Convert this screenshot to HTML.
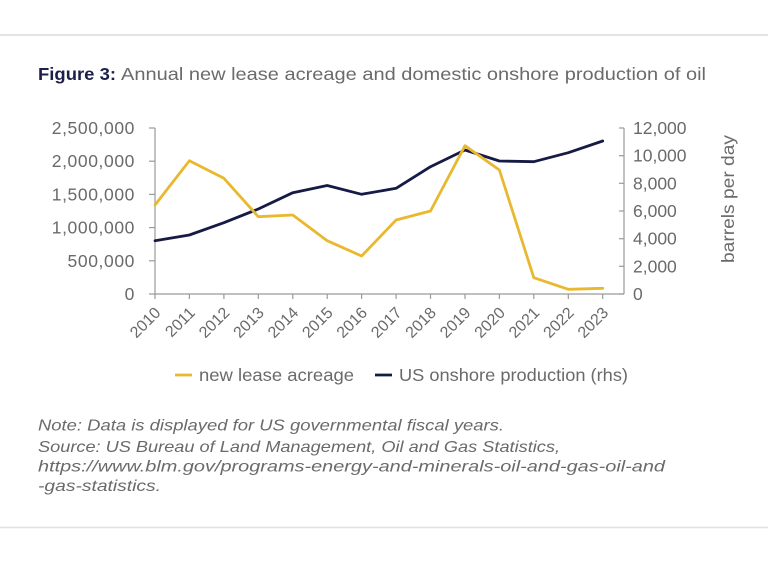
<!DOCTYPE html>
<html>
<head>
<meta charset="utf-8">
<style>
  html,body{margin:0;padding:0;background:#fff;}
  svg{display:block;}
  text{font-family:"Liberation Sans",sans-serif;}
</style>
</head>
<body>
<svg width="768" height="565" viewBox="0 0 768 565" xmlns="http://www.w3.org/2000/svg">
  <rect x="0" y="0" width="768" height="565" fill="#fff"/>
  <line x1="0" y1="35" x2="768" y2="35" stroke="#e4e4e4" stroke-width="2"/>
  <line x1="0" y1="527.5" x2="768" y2="527.5" stroke="#e0e0e0" stroke-width="1.5"/>

  <!-- Title -->
  <text x="38" y="80" font-size="17.5" font-weight="bold" fill="#1c1f4a" textLength="78" lengthAdjust="spacingAndGlyphs">Figure 3:</text>
  <text x="121" y="80" font-size="17.5" fill="#6a6a6a" textLength="585" lengthAdjust="spacingAndGlyphs">Annual new lease acreage and domestic onshore production of oil</text>

  <!-- Axes -->
  <g stroke="#9a9a9a" stroke-width="1.2" fill="none">
    <line x1="155" y1="128" x2="155" y2="294"/>
    <line x1="155" y1="294" x2="624" y2="294"/>
    <line x1="624" y1="128" x2="624" y2="294"/>
    <line x1="149" y1="294" x2="155" y2="294"/>
    <line x1="149" y1="260.8" x2="155" y2="260.8"/>
    <line x1="149" y1="227.6" x2="155" y2="227.6"/>
    <line x1="149" y1="194.4" x2="155" y2="194.4"/>
    <line x1="149" y1="161.2" x2="155" y2="161.2"/>
    <line x1="149" y1="128" x2="155" y2="128"/>
    <line x1="619" y1="294" x2="624" y2="294"/>
    <line x1="619" y1="266.3" x2="624" y2="266.3"/>
    <line x1="619" y1="238.7" x2="624" y2="238.7"/>
    <line x1="619" y1="211" x2="624" y2="211"/>
    <line x1="619" y1="183.3" x2="624" y2="183.3"/>
    <line x1="619" y1="155.7" x2="624" y2="155.7"/>
    <line x1="619" y1="128" x2="624" y2="128"/>
    <line x1="155" y1="294" x2="155" y2="299"/>
    <line x1="189.4" y1="294" x2="189.4" y2="299"/>
    <line x1="223.9" y1="294" x2="223.9" y2="299"/>
    <line x1="258.3" y1="294" x2="258.3" y2="299"/>
    <line x1="292.8" y1="294" x2="292.8" y2="299"/>
    <line x1="327.2" y1="294" x2="327.2" y2="299"/>
    <line x1="361.6" y1="294" x2="361.6" y2="299"/>
    <line x1="396.1" y1="294" x2="396.1" y2="299"/>
    <line x1="430.5" y1="294" x2="430.5" y2="299"/>
    <line x1="465" y1="294" x2="465" y2="299"/>
    <line x1="499.4" y1="294" x2="499.4" y2="299"/>
    <line x1="533.8" y1="294" x2="533.8" y2="299"/>
    <line x1="568.3" y1="294" x2="568.3" y2="299"/>
    <line x1="602.7" y1="294" x2="602.7" y2="299"/>
  </g>

  <!-- Left labels -->
  <g font-size="17.5" fill="#6a6a6a" text-anchor="end" letter-spacing="0.6">
    <text x="135" y="300">0</text>
    <text x="135" y="266.8">500,000</text>
    <text x="135" y="233.6">1,000,000</text>
    <text x="135" y="200.4">1,500,000</text>
    <text x="135" y="167.2">2,000,000</text>
    <text x="135" y="134">2,500,000</text>
  </g>

  <!-- Right labels -->
  <g font-size="17.5" fill="#6a6a6a">
    <text x="633" y="300">0</text>
    <text x="633" y="272.3">2,000</text>
    <text x="633" y="244.7">4,000</text>
    <text x="633" y="217">6,000</text>
    <text x="633" y="189.3">8,000</text>
    <text x="633" y="161.7">10,000</text>
    <text x="633" y="134">12,000</text>
  </g>
  <text transform="translate(734,199) rotate(-90)" font-size="17.5" fill="#6a6a6a" text-anchor="middle" textLength="128" lengthAdjust="spacingAndGlyphs">barrels  per day</text>

  <!-- X labels -->
  <g font-size="16" fill="#6a6a6a" text-anchor="end">
    <text transform="translate(161.6,313.7) rotate(-45)">2010</text>
    <text transform="translate(196,313.7) rotate(-45)">2011</text>
    <text transform="translate(230.5,313.7) rotate(-45)">2012</text>
    <text transform="translate(264.9,313.7) rotate(-45)">2013</text>
    <text transform="translate(299.4,313.7) rotate(-45)">2014</text>
    <text transform="translate(333.8,313.7) rotate(-45)">2015</text>
    <text transform="translate(368.2,313.7) rotate(-45)">2016</text>
    <text transform="translate(402.7,313.7) rotate(-45)">2017</text>
    <text transform="translate(437.1,313.7) rotate(-45)">2018</text>
    <text transform="translate(471.6,313.7) rotate(-45)">2019</text>
    <text transform="translate(506,313.7) rotate(-45)">2020</text>
    <text transform="translate(540.4,313.7) rotate(-45)">2021</text>
    <text transform="translate(574.9,313.7) rotate(-45)">2022</text>
    <text transform="translate(609.3,313.7) rotate(-45)">2023</text>
  </g>

  <!-- Series -->
  <polyline fill="none" stroke="#151b45" stroke-width="2.8" stroke-linejoin="round" stroke-linecap="round"
    points="155,240.7 189.4,235 223.9,222.7 258.3,209 292.8,192.7 327.2,185.5 361.6,194.3 396.1,188.3 430.5,166.7 465,150 499.4,161 533.8,161.7 568.3,152.7 602.7,141"/>
  <polyline fill="none" stroke="#e8b92e" stroke-width="2.8" stroke-linejoin="round" stroke-linecap="round"
    points="155,205 189.4,160.7 223.9,178.3 258.3,216.7 292.8,215 327.2,240.7 361.6,256 396.1,220 430.5,211 465,145.7 499.4,170 533.8,277.7 568.3,289.3 602.7,288.3"/>

  <!-- Legend -->
  <line x1="175" y1="375" x2="192" y2="375" stroke="#e8b92e" stroke-width="2.8"/>
  <text x="199" y="381" font-size="17.5" fill="#6a6a6a" textLength="155" lengthAdjust="spacingAndGlyphs">new lease acreage</text>
  <line x1="375" y1="375" x2="392" y2="375" stroke="#151b45" stroke-width="2.8"/>
  <text x="399" y="381" font-size="17.5" fill="#6a6a6a" textLength="229" lengthAdjust="spacingAndGlyphs">US onshore production (rhs)</text>

  <!-- Notes -->
  <g font-size="16" font-style="italic" fill="#6a6a6a">
    <text x="38" y="430.5" textLength="466" lengthAdjust="spacingAndGlyphs">Note: Data is displayed for US governmental fiscal years.</text>
    <text x="38" y="452" textLength="522" lengthAdjust="spacingAndGlyphs">Source: US Bureau of Land Management, Oil and Gas Statistics,</text>
    <text x="38" y="471.5" textLength="627" lengthAdjust="spacingAndGlyphs">https://www.blm.gov/programs-energy-and-minerals-oil-and-gas-oil-and</text>
    <text x="38" y="491" textLength="123" lengthAdjust="spacingAndGlyphs">-gas-statistics.</text>
  </g>
</svg>
</body>
</html>
